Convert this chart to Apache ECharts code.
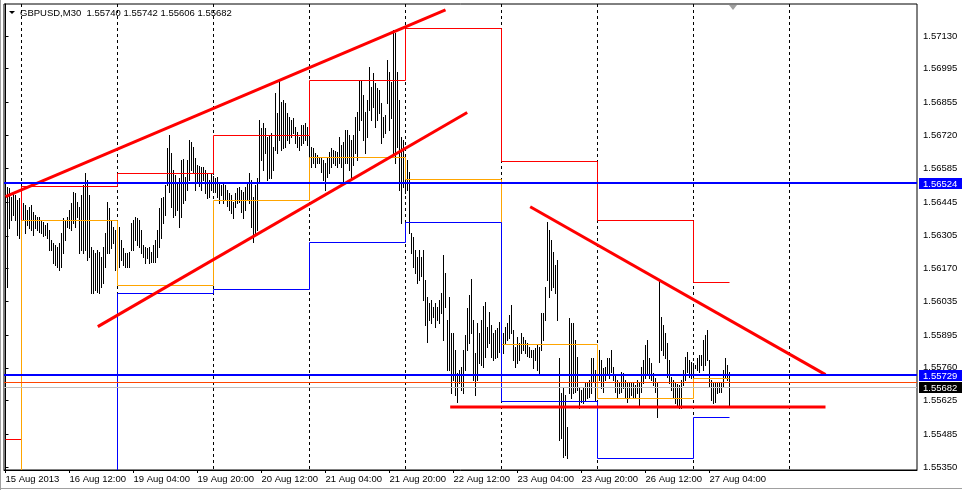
<!DOCTYPE html>
<html><head><meta charset="utf-8">
<script src="https://cdn.jsdelivr.net/npm/echarts@6/dist/echarts.min.js"></script>
<style>html,body{margin:0;padding:0;background:#fff;overflow:hidden}#c{width:962px;height:490px}</style>
</head><body><div id="c"></div>
<script>
// ---- data (GBPUSD M30, bar index 0 = 15 Aug 2013 20:00) ----
const highs = [
1.56515,1.56507,1.56503,1.56466,1.56487,1.56474,1.56453,1.56462,1.56432,1.56441,1.56432,1.56412,
1.56424,1.56432,1.56403,1.56391,1.56383,1.56383,1.56370,1.56362,1.56350,1.56358,1.56329,1.56288,
1.56275,1.56267,1.56259,1.56275,1.56317,1.56379,1.56370,1.56383,1.56412,1.56441,1.56487,1.56482,
1.56445,1.56424,1.56474,1.56515,1.56565,1.56536,1.56474,1.56259,1.56246,1.56234,1.56246,1.56238,
1.56217,1.56259,1.56317,1.56445,1.56420,1.56370,1.56341,1.56329,1.56259,1.56341,1.56288,1.56254,
1.56234,1.56234,1.56238,1.56358,1.56370,1.56383,1.56379,1.56370,1.56329,1.56267,1.56259,1.56254,
1.56259,1.56238,1.56267,1.56288,1.56329,1.56420,1.56462,1.56466,1.56515,1.56668,1.56721,1.56648,
1.56577,1.56556,1.56524,1.56544,1.56619,1.56623,1.56548,1.56619,1.56701,1.56693,1.56672,1.56627,
1.56598,1.56594,1.56590,1.56590,1.56577,1.56565,1.56536,1.56565,1.56553,1.56544,1.56548,1.56524,
1.56515,1.56524,1.56515,1.56495,1.56482,1.56474,1.56445,1.56482,1.56503,1.56507,1.56495,1.56487,
1.56507,1.56524,1.56565,1.56536,1.56466,1.56515,1.56544,1.56783,1.56750,1.56771,1.56750,1.56713,
1.56721,1.56730,1.56672,1.56895,1.56812,1.56948,1.56858,1.56866,1.56854,1.56812,1.56796,1.56783,
1.56792,1.56754,1.56734,1.56713,1.56763,1.56763,1.56771,1.56754,1.56713,1.56672,1.56668,1.56648,
1.56639,1.56631,1.56627,1.56619,1.56606,1.56631,1.56652,1.56668,1.56660,1.56656,1.56652,1.56713,
1.56680,1.56693,1.56742,1.56742,1.56721,1.56701,1.56721,1.56796,1.56816,1.56948,1.56948,1.56887,
1.56816,1.56866,1.57002,1.56919,1.56977,1.56936,1.56915,1.56907,1.56854,1.56796,1.56804,1.57031,
1.56981,1.56940,1.57155,1.57143,1.56981,1.56866,1.56713,1.56701,1.56606,1.56619,1.56569,1.56317,
1.56300,1.56246,1.56217,1.56246,1.56217,1.56246,1.56122,1.56052,1.56028,1.56040,1.56011,1.56028,
1.56011,1.56040,1.56068,1.56225,1.56151,1.55957,1.56052,1.55904,1.55904,1.55834,1.55739,1.55751,
1.55764,1.55834,1.55896,1.56007,1.56060,1.56126,1.55957,1.55821,1.55945,1.55904,1.55957,1.56015,
1.56032,1.55928,1.55990,1.55937,1.55904,1.55916,1.55924,1.55949,1.55937,1.55904,1.55928,1.55945,
1.55978,1.56019,1.55916,1.55846,1.55887,1.55863,1.55904,1.55887,1.55875,1.55863,1.55846,1.55834,
1.55834,1.55842,1.55854,1.55846,1.55986,1.55986,1.56093,1.56362,1.56329,1.56288,1.56238,1.56184,
1.56205,1.55801,1.55656,1.55677,1.55648,1.55516,1.55966,1.55945,1.55945,1.55875,1.55805,1.55681,
1.55669,1.55681,1.55698,1.55702,1.55710,1.55801,1.55801,1.55751,1.55739,1.55834,1.55793,1.55760,
1.55764,1.55801,1.55801,1.55834,1.55764,1.55731,1.55710,1.55698,1.55743,1.55739,1.55710,1.55698,
1.55698,1.55698,1.55702,1.55689,1.55710,1.55702,1.55764,1.55793,1.55854,1.55875,1.55801,1.55780,
1.55739,1.55718,1.55698,1.56122,1.55970,1.55937,1.55904,1.55863,1.55793,1.55722,1.55710,1.55698,
1.55693,1.55689,1.55710,1.55751,1.55805,1.55826,1.55793,1.55784,1.55780,1.55772,1.55801,1.55813,
1.55813,1.55875,1.55896,1.55916,1.55793,1.55710,1.55698,1.55702,1.55698,1.55702,1.55702,1.55751,
1.55801,1.55772,1.55742];
const lows = [
1.55764,1.56093,1.56337,1.56370,1.56391,1.56370,1.56308,1.56296,1.56321,1.56370,1.56317,1.56350,
1.56337,1.56329,1.56308,1.56337,1.56329,1.56321,1.56317,1.56304,1.56308,1.56296,1.56246,1.56246,
1.56192,1.56184,1.56176,1.56163,1.56176,1.56234,1.56288,1.56341,1.56337,1.56329,1.56358,1.56341,
1.56383,1.56234,1.56246,1.56234,1.56246,1.56205,1.56217,1.56068,1.56068,1.56081,1.56073,1.56068,
1.56093,1.56110,1.56176,1.56234,1.56234,1.56254,1.56275,1.56163,1.56163,1.56176,1.56205,1.56184,
1.56176,1.56176,1.56176,1.56246,1.56246,1.56288,1.56267,1.56259,1.56234,1.56217,1.56192,1.56213,
1.56192,1.56196,1.56196,1.56196,1.56217,1.56259,1.56296,1.56358,1.56391,1.56515,1.56487,1.56424,
1.56383,1.56391,1.56412,1.56341,1.56383,1.56441,1.56453,1.56495,1.56536,1.56577,1.56565,1.56495,
1.56528,1.56511,1.56495,1.56536,1.56482,1.56462,1.56466,1.56495,1.56487,1.56487,1.56466,1.56441,
1.56474,1.56441,1.56453,1.56428,1.56412,1.56399,1.56379,1.56424,1.56441,1.56445,1.56403,1.56379,
1.56412,1.56453,1.56441,1.56341,1.56280,1.56308,1.56329,1.56524,1.56619,1.56577,1.56648,1.56536,
1.56544,1.56544,1.56577,1.56660,1.56648,1.56701,1.56660,1.56668,1.56672,1.56701,1.56689,1.56713,
1.56730,1.56689,1.56672,1.56660,1.56680,1.56689,1.56701,1.56680,1.56627,1.56590,1.56606,1.56590,
1.56606,1.56606,1.56569,1.56536,1.56495,1.56548,1.56565,1.56590,1.56606,1.56598,1.56590,1.56606,
1.56590,1.56524,1.56606,1.56606,1.56577,1.56548,1.56598,1.56648,1.56619,1.56742,1.56783,1.56701,
1.56648,1.56713,1.56825,1.56783,1.56837,1.56754,1.56783,1.56812,1.56689,1.56713,1.56730,1.56854,
1.56742,1.56792,1.56648,1.56606,1.56672,1.56495,1.56358,1.56507,1.56482,1.56495,1.56317,1.56234,
1.56176,1.56151,1.56110,1.56122,1.56139,1.56040,1.55937,1.55867,1.55957,1.55945,1.55970,1.55928,
1.55957,1.55945,1.55986,1.55875,1.56011,1.55751,1.55751,1.55656,1.55710,1.55648,1.55619,1.55698,
1.55669,1.55656,1.55751,1.55834,1.55863,1.55904,1.55710,1.55648,1.55710,1.55780,1.55772,1.55764,
1.55805,1.55846,1.55863,1.55805,1.55793,1.55801,1.55805,1.55826,1.55863,1.55822,1.55863,1.55875,
1.55884,1.55904,1.55793,1.55764,1.55780,1.55793,1.55822,1.55834,1.55822,1.55809,1.55805,1.55805,
1.55760,1.55793,1.55751,1.55731,1.55834,1.55875,1.55957,1.56122,1.56052,1.56081,1.56093,1.56068,
1.55957,1.55462,1.55470,1.55392,1.55400,1.55388,1.55656,1.55635,1.55656,1.55660,1.55669,1.55594,
1.55619,1.55615,1.55627,1.55635,1.55640,1.55656,1.55702,1.55627,1.55681,1.55710,1.55677,1.55660,
1.55710,1.55739,1.55718,1.55743,1.55710,1.55660,1.55635,1.55656,1.55660,1.55677,1.55640,1.55619,
1.55635,1.55648,1.55640,1.55640,1.55656,1.55598,1.55660,1.55698,1.55718,1.55739,1.55718,1.55710,
1.55689,1.55660,1.55557,1.55784,1.55834,1.55813,1.55801,1.55722,1.55698,1.55669,1.55640,1.55615,
1.55606,1.55594,1.55594,1.55689,1.55710,1.55743,1.55722,1.55718,1.55718,1.55760,1.55751,1.55743,
1.55772,1.55751,1.55772,1.55793,1.55681,1.55627,1.55615,1.55619,1.55656,1.55660,1.55660,1.55681,
1.55722,1.55710,1.55606];

const xTickIdx = [0,32,64,96,128,160,192,224,256,288,320,352];
const xTickLabels = ['15 Aug 2013','16 Aug 12:00','19 Aug 04:00','19 Aug 20:00','20 Aug 12:00','21 Aug 04:00',
  '21 Aug 20:00','22 Aug 12:00','23 Aug 04:00','23 Aug 20:00','26 Aug 12:00','27 Aug 04:00'];
const dayLineIdx = [8,56,104,152,200,248,296,344,392];
const yTickValues = [1.57130,1.56995,1.56855,1.56720,1.56585,1.56445,1.56305,1.56170,1.56035,1.55895,1.55760,1.55625,1.55485,1.55350];

// daily pivot levels (day start bar index)
const dayStarts = [0,8,56,104,152,200,248,296,344];
const pivotR = [1.55466,1.56511,1.56565,1.56720,1.56948,1.57163,1.56615,1.56370,1.56114];
const pivotP = [1.55250,1.56370,1.56101,1.56453,1.56631,1.56540,1.55859,1.55635,1.55718];
const pivotS = [1.55200,1.55200,1.56068,1.56085,1.56279,1.56362,1.55623,1.55388,1.55557];

// drawn objects: [bar index, price]
const upperTrend = [[0,1.56467],[220,1.57238]];
const lowerTrend = [[46.15,1.55930],[230.85,1.56814]];
const downTrend = [[262.35,1.56425],[410,1.55732]];
const supportLine = [[222.35,1.55598],[410,1.55598]];
// horizontal lines: price, colour, width, label background (or '')
const hLevels = [1.55682, 1.55702, 1.56524, 1.55729];
const hColors = ['#c0c0c0', '#ff4500', '#0000ff', '#0000ff'];
const hWidths = [1, 1, 2, 2];
const hLabelBg = ['#000000', '', '#0000ff', '#0000ff'];
const titleText = 'GBPUSD,M30  1.55740 1.55742 1.55606 1.55682';

// ---- chart ----
const FONT = 'Liberation Sans, Arial, sans-serif';
const FS = 9.5;
const chart = echarts.init(document.getElementById('c'), null, {renderer:'canvas'});
const lastIdx = highs.length - 1;

function pivotData(levels){
  return dayStarts.map((s,k)=>[s, k+1<dayStarts.length?dayStarts[k+1]:lastIdx, levels[k], k>0?levels[k-1]:levels[k]]);
}
function clampY(y, cs){ return Math.max(cs.y-2, Math.min(cs.y+cs.height+2, y)); }
function pivotSeries(name, levels, color){
  return {name, type:'custom', z:3, silent:true, clip:true,
    data: pivotData(levels), encode:{x:[0,1], y:[2,3]},
    renderItem:function(params, api){
      const cs = params.coordSys;
      const a = api.coord([api.value(0), api.value(2)]);
      const b = api.coord([api.value(1), api.value(2)]);
      const p = api.coord([api.value(0), api.value(3)]);
      const y = Math.round(clampY(a[1],cs)) + 0.5;
      const yp = Math.round(clampY(p[1],cs)) + 0.5;
      const x0 = Math.floor(a[0]) + 0.5, x1 = Math.floor(b[0]) + 0.5;
      const children = [{type:'line', shape:{x1:x0, y1:y, x2:x1, y2:y}, style:{stroke:color, lineWidth:1}}];
      if (yp !== y) children.push({type:'line', shape:{x1:x0, y1:yp, x2:x0, y2:y}, style:{stroke:color, lineWidth:1}});
      return {type:'group', children};
    }};
}
function trend(name, data){
  return {name, type:'line', data, showSymbol:false, z:4, silent:true, lineStyle:{color:'#ff0000', width:3}};
}

const option = {
  animation:false,
  backgroundColor:'#fff',
  grid:{left:4, right:45, top:4, bottom:20, show:true, borderColor:'#000', borderWidth:1, backgroundColor:'#fff'},
  xAxis:{type:'value', min:-0.75, max:455.75, position:'bottom',
    axisLine:{show:true, lineStyle:{color:'#000'}},
    axisTick:{show:true, customValues:xTickIdx, length:3, lineStyle:{color:'#000'}},
    axisLabel:{show:true, customValues:xTickIdx, align:'left', margin:4, color:'#000', fontSize:FS, fontFamily:FONT,
      formatter:v=>{const k=xTickIdx.indexOf(Math.round(v)); return k>=0?xTickLabels[k]:'';}},
    splitLine:{show:false}},
  yAxis:{type:'value', min:1.55338, max:1.57262, position:'right', scale:true,
    axisLine:{show:true, lineStyle:{color:'#000'}},
    axisTick:{show:true, customValues:yTickValues, length:3, lineStyle:{color:'#000'}},
    axisLabel:{show:true, customValues:yTickValues, margin:6, color:'#000', fontSize:FS, fontFamily:FONT,
      formatter:v=>v.toFixed(5)},
    splitLine:{show:false}},
  graphic:[
    {type:'polygon', shape:{points:[[9,11],[15,11],[12,14]]}, style:{fill:'#000'}, z:100},
    {type:'text', x:20, y:13, style:{text:titleText, fill:'#000', font:FS+'px '+FONT, verticalAlign:'middle'}, z:100},
    {type:'polygon', shape:{points:[[729,5],[737,5],[733,10]]}, style:{fill:'#a0a0a0'}, z:100},
    {type:'line', shape:{x1:0.5,y1:0,x2:0.5,y2:490}, style:{stroke:'#a0a0a0', lineWidth:1}, z:100},
    {type:'line', shape:{x1:0,y1:488.5,x2:962,y2:488.5}, style:{stroke:'#a0a0a0', lineWidth:1}, z:100}
  ],
  series:[
    {name:'grid', type:'custom', z:1, silent:true,
      data: dayLineIdx.map(v=>[v]), encode:{x:0},
      renderItem:function(params, api){
        const cs = params.coordSys;
        const x = Math.floor(api.coord([api.value(0), 1.56])[0]) + 0.5;
        return {type:'line', shape:{x1:x, y1:cs.y, x2:x, y2:cs.y+cs.height},
          style:{stroke:'#000', lineWidth:1, lineDash:[3,3]}};
      }},
    {name:'bars', type:'custom', z:2, silent:true,
      data: highs.map((h,i)=>[i,h,lows[i]]),
      encode:{x:0, y:[1,2]},
      renderItem:function(params, api){
        const i = api.value(0);
        const a = api.coord([i, api.value(1)]);
        const b = api.coord([i, api.value(2)]);
        const x = Math.floor(a[0]) + 0.5;
        return {type:'line', shape:{x1:x, y1:Math.round(a[1]), x2:x, y2:Math.round(b[1])+1},
          style:{stroke:'#000', lineWidth:1}};
      }},
    pivotSeries('R', pivotR, '#ff0000'),
    pivotSeries('P', pivotP, '#ffa500'),
    pivotSeries('S', pivotS, '#0000ff'),
    trend('up', upperTrend), trend('lo', lowerTrend), trend('down', downTrend), trend('sup', supportLine),
    {name:'hlines', type:'custom', z:5, silent:true, clip:false,
      data: hLevels.map((v,k)=>[k, v]), encode:{y:1},
      renderItem:function(params, api){
        const cs = params.coordSys;
        const k = api.value(0);
        const v = api.value(1);
        const yy = api.coord([0, v])[1];
        const w = hWidths[k];
        const y = w % 2 ? Math.round(yy) + 0.5 : Math.round(yy);
        const children = [{type:'line', shape:{x1:cs.x, y1:y, x2:cs.x+cs.width, y2:y}, style:{stroke:hColors[k], lineWidth:w}}];
        if (hLabelBg[k]) {
          const yc = Math.round(yy);
          children.push({type:'rect', shape:{x:cs.x+cs.width+2, y:yc-5, width:44, height:11}, style:{fill:hLabelBg[k]}});
          children.push({type:'text', x:cs.x+cs.width+6, y:yc+1, style:{text:v.toFixed(5), fill:'#fff', font:FS+'px '+FONT, verticalAlign:'middle'}});
        }
        return {type:'group', children};
      }}
  ]
};
chart.setOption(option);
</script></body></html>
